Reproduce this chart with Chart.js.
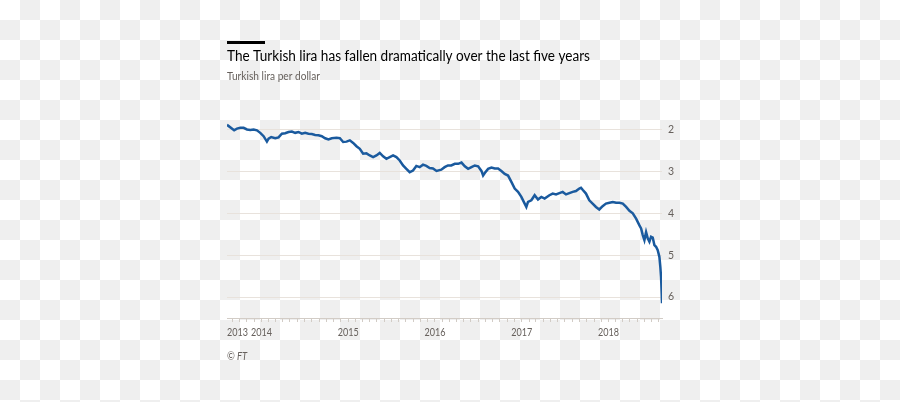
<!DOCTYPE html>
<html>
<head>
<meta charset="utf-8">
<script src="https://cdn.jsdelivr.net/npm/chart.js@4"></script>
<style>
  html, body {
    margin: 0;
    padding: 0;
    width: 900px;
    height: 402px;
    overflow: hidden;
    background-color: #fff;
    background-image: conic-gradient(#efefef 25%, #fff 0 50%, #efefef 0 75%, #fff 0);
    background-size: 40px 40px;
  }
  canvas { position: absolute; left: 0; top: 0; }
</style>
</head>
<body>
<canvas id="lira-chart" width="900" height="402"></canvas>
<script>
const title = 'The Turkish lira has fallen dramatically over the last five years';
const subtitle = 'Turkish lira per dollar';
const source = '\u00a9 FT';

// roughly fortnightly readings of the line
const dates = [
    '2013-08-09', '2013-09-08', '2013-09-20', '2013-10-04', '2013-10-18', '2013-11-01', '2013-11-15', '2013-11-29',
    '2013-12-13', '2013-12-27', '2014-01-10', '2014-01-24', '2014-01-31', '2014-02-11', '2014-02-28', '2014-03-14',
    '2014-03-28', '2014-04-11', '2014-04-25', '2014-05-09', '2014-05-23', '2014-06-06', '2014-06-20', '2014-07-04',
    '2014-07-18', '2014-08-01', '2014-08-15', '2014-08-29', '2014-09-12', '2014-09-26', '2014-10-10', '2014-10-24',
    '2014-11-13', '2014-11-27', '2014-12-11', '2014-12-25', '2015-01-08', '2015-01-22', '2015-02-05', '2015-02-19',
    '2015-03-05', '2015-03-19', '2015-04-02', '2015-04-16', '2015-04-30', '2015-05-14', '2015-05-28', '2015-06-11',
    '2015-06-25', '2015-07-09', '2015-07-23', '2015-08-06', '2015-08-20', '2015-09-03', '2015-09-17', '2015-10-01',
    '2015-10-15', '2015-10-29', '2015-11-12', '2015-11-26', '2015-12-10', '2015-12-24', '2016-01-08', '2016-01-28',
    '2016-02-11', '2016-02-25', '2016-03-10', '2016-03-25', '2016-04-08', '2016-04-22', '2016-05-06', '2016-05-20',
    '2016-06-03', '2016-06-17', '2016-07-01', '2016-07-15', '2016-07-22', '2016-07-29', '2016-08-12', '2016-08-26',
    '2016-09-09', '2016-09-23', '2016-10-07', '2016-10-21', '2016-11-04', '2016-11-18', '2016-12-02', '2016-12-16',
    '2016-12-30', '2017-01-13', '2017-01-20', '2017-01-27', '2017-02-10', '2017-02-24', '2017-03-10', '2017-03-24',
    '2017-04-07', '2017-04-27', '2017-05-11', '2017-05-25', '2017-06-08', '2017-06-22', '2017-07-06', '2017-07-20',
    '2017-08-03', '2017-08-17', '2017-08-31', '2017-09-07', '2017-09-14', '2017-09-28', '2017-10-12', '2017-10-26',
    '2017-11-09', '2017-11-23', '2017-12-07', '2017-12-21', '2018-01-05', '2018-01-19', '2018-02-02', '2018-02-16',
    '2018-03-02', '2018-03-16', '2018-03-30', '2018-04-13', '2018-04-27', '2018-05-11', '2018-05-18', '2018-05-25',
    '2018-06-01', '2018-06-08', '2018-06-15', '2018-06-22', '2018-06-29', '2018-07-06', '2018-07-13', '2018-07-20',
    '2018-07-27', '2018-08-03', '2018-08-07', '2018-08-10', '2018-08-13', '2018-08-14'
];
const rates = [
    1.89, 2.02, 1.98, 1.96, 1.96, 2.00, 2.01, 2.00,
    2.02, 2.08, 2.16, 2.29, 2.22, 2.18, 2.21, 2.19,
    2.10, 2.09, 2.06, 2.05, 2.08, 2.06, 2.10, 2.08,
    2.10, 2.11, 2.13, 2.14, 2.16, 2.21, 2.24, 2.21,
    2.20, 2.21, 2.30, 2.29, 2.26, 2.32, 2.40, 2.46,
    2.58, 2.57, 2.62, 2.66, 2.62, 2.56, 2.64, 2.70,
    2.66, 2.62, 2.66, 2.74, 2.86, 2.94, 3.02, 2.98,
    2.87, 2.90, 2.84, 2.87, 2.92, 2.93, 2.99, 2.96,
    2.90, 2.86, 2.86, 2.82, 2.82, 2.79, 2.88, 2.94,
    2.90, 2.86, 2.88, 2.99, 3.10, 3.04, 2.94, 2.91,
    2.93, 2.93, 2.99, 3.06, 3.10, 3.25, 3.41, 3.49,
    3.61, 3.77, 3.85, 3.73, 3.69, 3.57, 3.67, 3.61,
    3.65, 3.57, 3.53, 3.55, 3.52, 3.49, 3.55, 3.52,
    3.49, 3.47, 3.41, 3.39, 3.44, 3.53, 3.69, 3.77,
    3.85, 3.91, 3.83, 3.77, 3.75, 3.73, 3.75, 3.75,
    3.77, 3.85, 3.94, 4.00, 4.13, 4.29, 4.36, 4.52,
    4.64, 4.45, 4.60, 4.68, 4.56, 4.58, 4.76, 4.80,
    4.88, 5.04, 5.28, 5.52, 5.94, 6.15
];

const rateTicks = [2, 3, 4, 5, 6];
const yearTicks = ['2013-08-09', '2014-01-01', '2015-01-01', '2016-01-01', '2017-01-01', '2018-01-01'];
const yearLabels = ['2013', '2014', '2015', '2016', '2017', '2018'];

const grey = '#66605c';
const textFont = 'Lato, Roboto, sans-serif';

function drawFitted(ctx, text, x, y, font, color, width, align) {
    ctx.font = font;
    const w = ctx.measureText(text).width;
    ctx.save();
    ctx.fillStyle = color;
    ctx.textBaseline = 'alphabetic';
    ctx.translate(align === 'center' ? x - width / 2 : x, y);
    ctx.scale(width / w, 1);
    ctx.fillText(text, 0, 0);
    ctx.restore();
}

const ftText = {
    id: 'ftText',
    afterDraw(chart) {
        const ctx = chart.ctx;
        const left = chart.chartArea.left;
        const xs = chart.scales.x;
        ctx.save();
        ctx.fillStyle = '#000';
        ctx.fillRect(left, 41, 38, 3);
        drawFitted(ctx, title, left, 61, '14.5px ' + textFont, '#000', 363);
        drawFitted(ctx, subtitle, left, 79.5, '11.5px ' + textFont, grey, 93);
        drawFitted(ctx, source, left, 360, 'italic 11px ' + textFont, grey, 20);
        // year labels under the axis; the first one sits flush with the axis start
        yearTicks.forEach((d, i) => {
            const px = xs.getPixelForValue(Date.parse(d));
            drawFitted(ctx, yearLabels[i], px, 335.5, '11px ' + textFont, grey, 21, i === 0 ? 'left' : 'center');
        });
        ctx.restore();
    }
};

// month starts for the small ticks along the bottom
function monthTicks(min, max) {
    const out = [];
    for (let y = 2013; y <= 2018; y++) {
        for (let m = 0; m < 12; m++) {
            const t = Date.UTC(y, m, 1);
            if (t >= min && t <= max) out.push({value: t});
        }
    }
    return out;
}

const ctx = document.getElementById('lira-chart');
const chart = new Chart(ctx, {
    type: 'line',
    data: {
        datasets: [{
            data: dates.map((d, i) => ({x: Date.parse(d), y: rates[i]})),
            borderColor: '#1a5a9e',
            borderWidth: 2.5,
            pointRadius: 0,
            fill: false,
            tension: 0
        }]
    },
    plugins: [ftText],
    options: {
        responsive: false,
        animation: false,
        events: [],
        layout: {
            padding: {left: 227, right: 208, top: 119, bottom: 60}
        },
        plugins: {
            legend: {display: false},
            tooltip: {enabled: false}
        },
        scales: {
            x: {
                type: 'linear',
                min: Date.parse(dates[0]),
                max: Date.parse(dates[dates.length - 1]),
                afterBuildTicks: (scale) => { scale.ticks = monthTicks(scale.min, scale.max); },
                afterFit: (scale) => { scale.height = 24; },
                grid: {
                    drawOnChartArea: false,
                    drawTicks: true,
                    tickLength: 4,
                    color: '#d2ccc6'
                },
                border: {display: true, color: '#d2ccc6'},
                ticks: {display: false}
            },
            y: {
                position: 'right',
                reverse: true,
                min: 1.75,
                max: 6.5,
                afterBuildTicks: (scale) => { scale.ticks = rateTicks.map(v => ({value: v})); },
                afterFit: (scale) => { scale.width = 30; },
                grid: {
                    color: '#e8e2dc',
                    drawTicks: false
                },
                border: {display: false},
                ticks: {
                    padding: 6,
                    color: grey,
                    font: {family: textFont, size: 10.5}
                }
            }
        }
    }
});
</script>
</body>
</html>
